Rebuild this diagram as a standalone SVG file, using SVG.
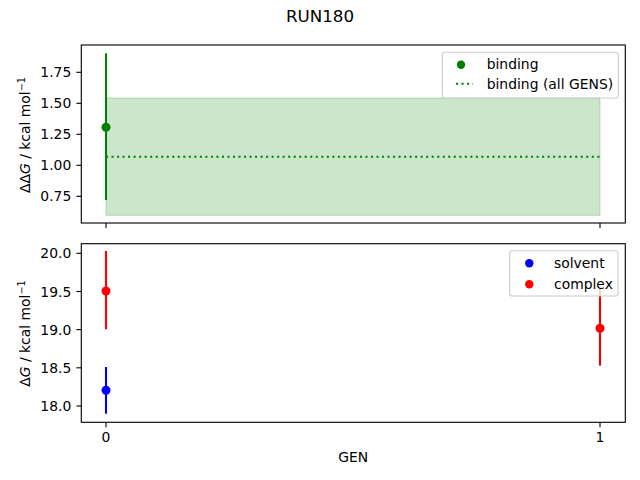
<svg xmlns="http://www.w3.org/2000/svg" width="640" height="480" viewBox="0 0 640 480">
<style>
text{font-family:"DejaVu Sans","Liberation Sans",sans-serif;fill:#000}
.tick{font-size:13.9px}
.ylab{font-size:13.9px;text-anchor:end}
.spine{fill:none;stroke:#000;stroke-width:1.11}
.tk{stroke:#000;stroke-width:1.11}
.leg{fill:#fff;fill-opacity:0.8;stroke:#cccccc;stroke-width:1.11}
.lt{font-size:13.9px}
</style>
<rect width="640" height="480" fill="#fff"/>
<text x="320" y="21.7" font-size="16.7" text-anchor="middle">RUN180</text>

<g id="top-axes">
  <rect x="106" y="98" width="494" height="117.3" fill="#008000" fill-opacity="0.2" stroke="#008000" stroke-opacity="0.2" stroke-width="1.11"/>
  <line x1="106" y1="156.7" x2="600" y2="156.7" stroke="#008000" stroke-width="2.08" stroke-dasharray="2.08,3.44"/>
  <line x1="106" y1="53.3" x2="106" y2="200" stroke="#008000" stroke-width="2.08"/>
  <circle cx="106" cy="127.3" r="4.5" fill="#008000"/>
  <rect class="spine" x="81.3" y="45" width="544" height="178"/>
  <g class="tk">
    <line x1="81.3" y1="72.3" x2="76.4" y2="72.3"/>
    <line x1="81.3" y1="103.3" x2="76.4" y2="103.3"/>
    <line x1="81.3" y1="134.3" x2="76.4" y2="134.3"/>
    <line x1="81.3" y1="165.3" x2="76.4" y2="165.3"/>
    <line x1="81.3" y1="196.3" x2="76.4" y2="196.3"/>
    <line x1="106" y1="223" x2="106" y2="227.9"/>
    <line x1="600" y1="223" x2="600" y2="227.9"/>
  </g>
  <g class="ylab">
    <text x="71.3" y="77.3">1.75</text>
    <text x="71.3" y="108.3">1.50</text>
    <text x="71.3" y="139.3">1.25</text>
    <text x="71.3" y="170.3">1.00</text>
    <text x="71.3" y="201.3">0.75</text>
  </g>
  <text transform="translate(30,135) rotate(-90)" font-size="13.9" text-anchor="middle">ΔΔ<tspan font-style="italic">G</tspan> / kcal mol<tspan font-size="9.7" dy="-5">−1</tspan></text>
  <g id="legend-top">
    <rect class="leg" x="442.3" y="52.3" width="176" height="45.7" rx="2.8"/>
    <circle cx="461" cy="64.7" r="4.2" fill="#008000"/>
    <text class="lt" x="486.7" y="69.3">binding</text>
    <line x1="456" y1="83.7" x2="473" y2="83.7" stroke="#008000" stroke-width="2.08" stroke-dasharray="2.08,3.44"/>
    <text class="lt" x="486.7" y="88.5">binding (all GENS)</text>
  </g>
</g>

<g id="bottom-axes">
  <line x1="106" y1="251" x2="106" y2="329.3" stroke="#ff0000" stroke-width="2.08"/>
  <circle cx="106" cy="291" r="4.5" fill="#ff0000"/>
  <line x1="106" y1="367" x2="106" y2="413.7" stroke="#0000ff" stroke-width="2.08"/>
  <circle cx="106" cy="390.3" r="4.5" fill="#0000ff"/>
  <line x1="600" y1="289" x2="600" y2="365.7" stroke="#ff0000" stroke-width="2.08"/>
  <circle cx="600" cy="328.3" r="4.5" fill="#ff0000"/>
  <rect class="spine" x="81.3" y="243.7" width="544" height="178.6"/>
  <g class="tk">
    <line x1="81.3" y1="253.3" x2="76.4" y2="253.3"/>
    <line x1="81.3" y1="291.5" x2="76.4" y2="291.5"/>
    <line x1="81.3" y1="329.6" x2="76.4" y2="329.6"/>
    <line x1="81.3" y1="367.8" x2="76.4" y2="367.8"/>
    <line x1="81.3" y1="406" x2="76.4" y2="406"/>
    <line x1="106" y1="422.3" x2="106" y2="427.2"/>
    <line x1="600" y1="422.3" x2="600" y2="427.2"/>
  </g>
  <g class="ylab">
    <text x="71.3" y="258.3">20.0</text>
    <text x="71.3" y="296.5">19.5</text>
    <text x="71.3" y="334.6">19.0</text>
    <text x="71.3" y="372.8">18.5</text>
    <text x="71.3" y="411">18.0</text>
  </g>
  <text class="tick" x="106" y="441.7" text-anchor="middle">0</text>
  <text class="tick" x="600" y="441.7" text-anchor="middle">1</text>
  <text x="353.3" y="461.7" font-size="13.9" text-anchor="middle">GEN</text>
  <text transform="translate(30,333.5) rotate(-90)" font-size="13.9" text-anchor="middle">Δ<tspan font-style="italic">G</tspan> / kcal mol<tspan font-size="9.7" dy="-5">−1</tspan></text>
  <g id="legend-bottom">
    <rect class="leg" x="509.7" y="250.7" width="108.3" height="45.3" rx="2.8"/>
    <circle cx="529.3" cy="263.3" r="4.2" fill="#0000ff"/>
    <text class="lt" x="554" y="268">solvent</text>
    <circle cx="529.3" cy="284.3" r="4.2" fill="#ff0000"/>
    <text class="lt" x="554" y="288.8">complex</text>
  </g>
</g>
</svg>
